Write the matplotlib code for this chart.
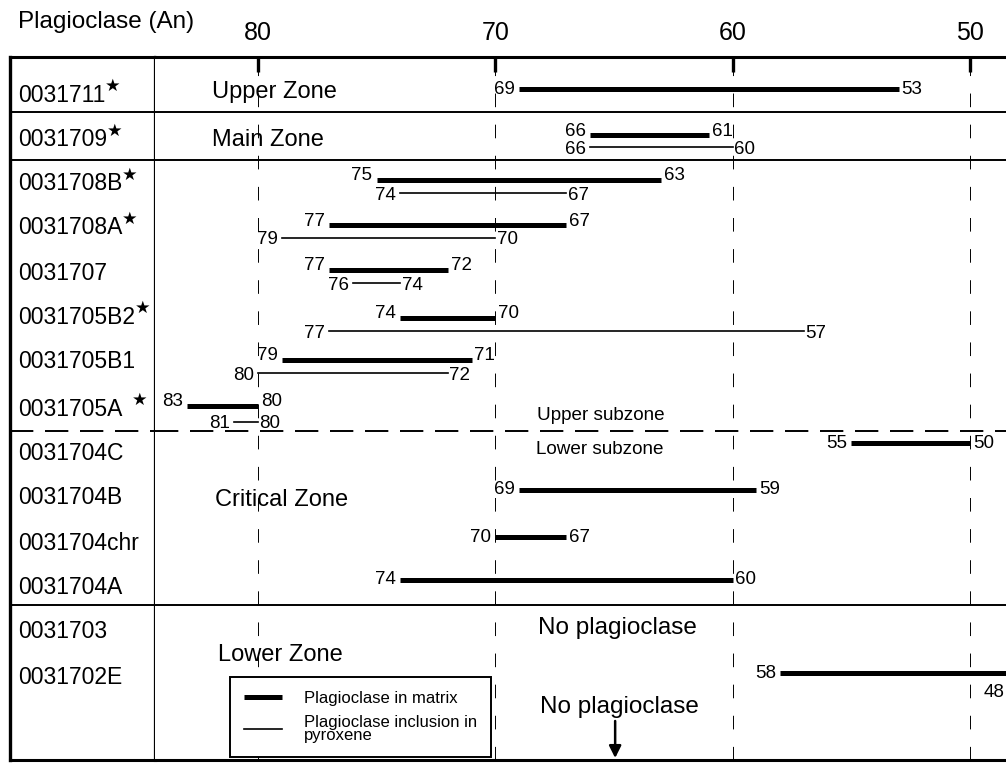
import numpy as np
import matplotlib
matplotlib.use("Agg")
import matplotlib.pyplot as plt
from matplotlib.lines import Line2D

plt.rcParams['font.family'] = ['Liberation Sans', 'DejaVu Sans']

# data
samples = ['0031711', '0031709', '0031708B', '0031708A', '0031707', '0031705B2',
           '0031705B1', '0031705A', '0031704C', '0031704B', '0031704chr', '0031704A',
           '0031703', '0031702E']
starred = [True, True, True, True, False, True, False, True,
           False, False, False, False, False, False]
nan = np.nan
matrix_start = [69, 66, 75, 77, 77, 74, 79, 83, 55, 69, 70, 74, nan, 58]
matrix_end = [53, 61, 63, 67, 72, 70, 71, 80, 50, 59, 67, 60, nan, 48]
incl_start = [nan, 66, 74, 79, 76, 77, 80, 81, nan, nan, nan, nan, nan, nan]
incl_end = [nan, 60, 67, 70, 74, 57, 72, 80, nan, nan, nan, nan, nan, nan]
ticks = [80, 70, 60, 50]

# layout (vertical positions, top of frame = 57, bottom = 760)
label_y = [95, 140, 184, 228, 273, 317, 362, 409, 453, 498, 543, 587, 632, 677]
matrix_y = [89, 135, 180, 225, 270, 318, 360, 406, 443, 490, 537, 580, nan, 673]
incl_y = [nan, 147, 193, 238, 283, 331, 373, 422, nan, nan, nan, nan, nan, nan]
solid_dividers = [112, 160, 605]
subzone_y = 431
Y_TOP, Y_BOT = 57, 760
X_LEFT, X_RIGHT = 84.34, 48.48

fig = plt.figure(figsize=(10.06, 7.63), dpi=100)
ax0 = fig.add_axes([10 / 1006, 3 / 763, 145 / 1006, 703 / 763])
ax = fig.add_axes([155 / 1006, 3 / 763, 851 / 1006, 703 / 763])

for a in (ax0, ax):
    a.set_ylim(Y_BOT, Y_TOP)
    for y in solid_dividers:
        a.axhline(y, color='black', lw=1.4)
    a.axhline(subzone_y, color='black', lw=1.4, ls=(0, (12, 6)))
    a.spines['top'].set_linewidth(2.2)
    a.spines['bottom'].set_linewidth(2.2)

ax0.set_xlim(0, 1)
ax0.set_xticks([])
ax0.set_yticks([])
ax0.spines['left'].set_linewidth(2.4)
ax0.spines['right'].set_linewidth(1.6)

ax.set_xlim(X_LEFT, X_RIGHT)
ax.set_yticks([])
ax.spines['left'].set_visible(False)
ax.spines['right'].set_visible(False)
ax.xaxis.tick_top()
ax.set_xticks(ticks)
ax.tick_params(axis='x', direction='in', length=11, width=2.4, labelsize=18, pad=9)
for t in ticks:
    ax.axvline(t, color='black', lw=0.7, ls=(0, (14, 18)), zorder=1)

# sample labels
for name, y, st in zip(samples, label_y, starred):
    txt = ax0.text(0.055, y, name, fontsize=16.5, va='center', ha='left')
    if st:
        dx = 7 if name == '0031705A' else 0
        ax0.annotate('★', xy=(1, 1), xycoords=txt, xytext=(dx, 5),
                     textcoords='offset points', ha='left', va='top',
                     fontsize=12.5, family='DejaVu Sans')

num_kw = dict(fontsize=13.5, va='center')
two_line = [not np.isnan(v) for v in incl_y]
for i in range(len(samples)):
    if not np.isnan(matrix_start[i]):
        y = matrix_y[i]
        ax.plot([matrix_start[i], matrix_end[i]], [y, y], color='black', lw=3.6,
                solid_capstyle='butt')
        off = -4 if two_line[i] else 0
        ax.annotate(f'{matrix_start[i]:g}', (matrix_start[i], y + off), xytext=(-3, 0),
                    textcoords='offset points', ha='right', **num_kw)
        if matrix_end[i] < X_RIGHT:
            ax.annotate(f'{matrix_end[i]:g}', (X_RIGHT, y), xytext=(-1, -14),
                        textcoords='offset points', ha='right', **num_kw)
        else:
            ax.annotate(f'{matrix_end[i]:g}', (matrix_end[i], y + off), xytext=(2, 0),
                        textcoords='offset points', ha='left', **num_kw)
    if not np.isnan(incl_start[i]):
        y = incl_y[i]
        ax.plot([incl_start[i], incl_end[i]], [y, y], color='black', lw=1.2)
        ax.annotate(f'{incl_start[i]:g}', (incl_start[i], y + 2), xytext=(-3, 0),
                    textcoords='offset points', ha='right', **num_kw)
        ax.annotate(f'{incl_end[i]:g}', (incl_end[i], y + 2), xytext=(1, 0),
                    textcoords='offset points', ha='left', **num_kw)

# zone annotations
zone_kw = dict(fontsize=17, va='center', ha='left')
ax.text(81.95, 92, 'Upper Zone', **zone_kw)
ax.text(81.95, 140, 'Main Zone', **zone_kw)
ax.text(81.8, 500, 'Critical Zone', **zone_kw)
ax.text(81.7, 655, 'Lower Zone', **zone_kw)
ax.text(68.25, 415, 'Upper subzone', fontsize=13.6, va='center', ha='left')
ax.text(68.3, 449, 'Lower subzone', fontsize=13.6, va='center', ha='left')
ax.text(68.2, 628, 'No plagioclase', fontsize=17.5, va='center', ha='left')
ax.text(68.1, 707, 'No plagioclase', fontsize=17.5, va='center', ha='left')
ax.annotate('', xy=(64.95, Y_BOT - 2), xytext=(64.95, 721),
            arrowprops=dict(arrowstyle='-|>', color='black', lw=1.8,
                            mutation_scale=18, shrinkA=0, shrinkB=0))

fig.text(18 / 1006, 1 - 22 / 763, 'Plagioclase (An)', fontsize=17.5, va='center', ha='left')

handles = [Line2D([], [], color='black', lw=3.6, solid_capstyle='butt'),
           Line2D([], [], color='black', lw=1.2)]
leg = ax.legend(handles, ['Plagioclase in matrix', 'Plagioclase inclusion in\npyroxene'],
                loc='upper left', bbox_to_anchor=(0.088, 0.118), borderaxespad=0,
                fontsize=12, frameon=True, fancybox=False, handlelength=2.3,
                handletextpad=1.3, borderpad=0.85, labelspacing=0.5, framealpha=1)
leg.get_frame().set_edgecolor('black')
leg.get_frame().set_linewidth(1.4)
for t in leg.get_texts():
    t.set_linespacing(0.85)

fig.savefig('out.png', dpi=100)
